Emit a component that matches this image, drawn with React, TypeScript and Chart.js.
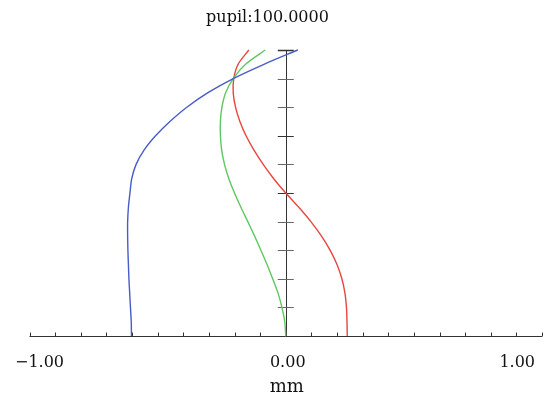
import React, { useEffect, useRef } from "react";
import { Chart, registerables } from "chart.js";

Chart.register(...registerables);

const titleText = "pupil:100.0000";
const xAxisTitle = "mm";

const pupil = [0, 0.05, 0.1, 0.15, 0.2, 0.25, 0.3, 0.35, 0.4, 0.45, 0.5, 0.55, 0.6, 0.65, 0.7, 0.75, 0.8, 0.85, 0.9, 0.95, 1.0];

const blueX = [-0.602, -0.603, -0.606, -0.609, -0.612, -0.614, -0.616, -0.617, -0.617, -0.614, -0.608, -0.601, -0.584, -0.553, -0.508, -0.452, -0.386, -0.305, -0.205, -0.085, 0.047];
const greenX = [0, -0.004, -0.015, -0.03, -0.051, -0.073, -0.097, -0.122, -0.148, -0.175, -0.2, -0.222, -0.239, -0.25, -0.255, -0.255, -0.249, -0.235, -0.205, -0.157, -0.08];
const redX = [0.24, 0.239, 0.237, 0.231, 0.219, 0.2, 0.173, 0.139, 0.098, 0.051, 0.0, -0.047, -0.088, -0.124, -0.155, -0.179, -0.196, -0.205, -0.203, -0.186, -0.144];

const xTickValues = [-1, -0.9, -0.8, -0.7, -0.6, -0.5, -0.4, -0.3, -0.2, -0.1, 0, 0.1, 0.2, 0.3, 0.4, 0.5, 0.6, 0.7, 0.8, 0.9, 1];
const yTickValues = [0, 0.1, 0.2, 0.3, 0.4, 0.5, 0.6, 0.7, 0.8, 0.9, 1];
const xLabelValues = [-1, 0, 1];
const xLabelTexts = ["\u22121.00", "0.00", "1.00"];

const FONT = "'DejaVu Serif', serif";

const axesPlugin = {
  id: "opticAxes",
  beforeDatasetsDraw(chart: any) {
    const { ctx, scales } = chart;
    const xs = scales.x;
    const ys = scales.y;
    const y0 = ys.getPixelForValue(0);
    const y1 = ys.getPixelForValue(1);
    const x0 = xs.getPixelForValue(0);
    const xl = xs.getPixelForValue(-1);
    const xr = xs.getPixelForValue(1);
    ctx.save();
    ctx.strokeStyle = "#333";
    ctx.lineWidth = 1;
    ctx.beginPath();
    ctx.moveTo(xl, Math.round(y0) + 0.5);
    ctx.lineTo(xr, Math.round(y0) + 0.5);
    ctx.stroke();
    xTickValues.forEach((v) => {
      const px = Math.round(xs.getPixelForValue(v)) + 0.5;
      ctx.beginPath();
      ctx.moveTo(px, Math.round(y0) + 0.5);
      ctx.lineTo(px, Math.round(y0) - 3.5);
      ctx.stroke();
    });
    ctx.beginPath();
    ctx.moveTo(Math.round(x0) + 0.5, y0);
    ctx.lineTo(Math.round(x0) + 0.5, y1);
    ctx.stroke();
    yTickValues.forEach((v, i) => {
      if (i === 0) return;
      const py = Math.round(ys.getPixelForValue(v)) + 0.5;
      ctx.strokeStyle = i === 5 || i === 7 || i === 10 ? "#333" : "#666";
      ctx.lineWidth = i === 10 ? 1.5 : 1;
      ctx.beginPath();
      ctx.moveTo(x0 - 8, py);
      ctx.lineTo(x0 + 8, py);
      ctx.stroke();
    });
    ctx.restore();
  },
  afterDraw(chart: any) {
    const { ctx, scales, width } = chart;
    const xs = scales.x;
    const ys = scales.y;
    const y0 = ys.getPixelForValue(0);
    ctx.save();
    ctx.fillStyle = "#111";
    ctx.textBaseline = "alphabetic";
    ctx.font = "16px " + FONT;
    ctx.textAlign = "center";
    ctx.fillText(titleText, width / 2 - 5, 22);
    xLabelValues.forEach((v, i) => {
      const px = xs.getPixelForValue(v);
      if (i === 0) {
        ctx.textAlign = "left";
        ctx.fillText(xLabelTexts[i], px - 14.5, y0 + 31);
      } else if (i === xLabelValues.length - 1) {
        ctx.textAlign = "right";
        ctx.fillText(xLabelTexts[i], px - 7, y0 + 31);
      } else {
        ctx.textAlign = "center";
        ctx.fillText(xLabelTexts[i], px + 2, y0 + 31);
      }
    });
    ctx.font = "18px " + FONT;
    ctx.textAlign = "center";
    ctx.fillText(xAxisTitle, xs.getPixelForValue(0) + 1, y0 + 56);
    ctx.restore();
  },
};

function series(xv: number[]) {
  return pupil.map((p, i) => ({ x: xv[i], y: p }));
}

export default function App() {
  const ref = useRef<HTMLCanvasElement | null>(null);
  useEffect(() => {
    if (!ref.current) return;
    const common = { showLine: true, pointRadius: 0, borderWidth: 1.4, tension: 0.3, clip: false };
    const chart = new Chart(ref.current, {
      type: "scatter",
      data: {
        datasets: [
          { data: series(blueX), borderColor: "rgb(72,92,200)", ...common } as any,
          { data: series(greenX), borderColor: "rgb(95,200,95)", ...common } as any,
          { data: series(redX), borderColor: "rgb(232,70,60)", ...common } as any,
        ],
      },
      options: {
        responsive: false,
        animation: false,
        layout: { padding: { left: 29.5, right: 3, top: 50, bottom: 61 } },
        scales: {
          x: { type: "linear", min: -1, max: 1, display: false },
          y: { type: "linear", min: 0, max: 1, display: false },
        },
        plugins: { legend: { display: false }, tooltip: { enabled: false }, title: { display: false } },
      },
      plugins: [axesPlugin],
    });
    return () => chart.destroy();
  }, []);
  return (
    <div style={{ position: "absolute", left: 0, top: 0, width: 545, height: 397, background: "#fff" }}>
      <canvas ref={ref} width={545} height={397} style={{ width: 545, height: 397 }} />
    </div>
  );
}
